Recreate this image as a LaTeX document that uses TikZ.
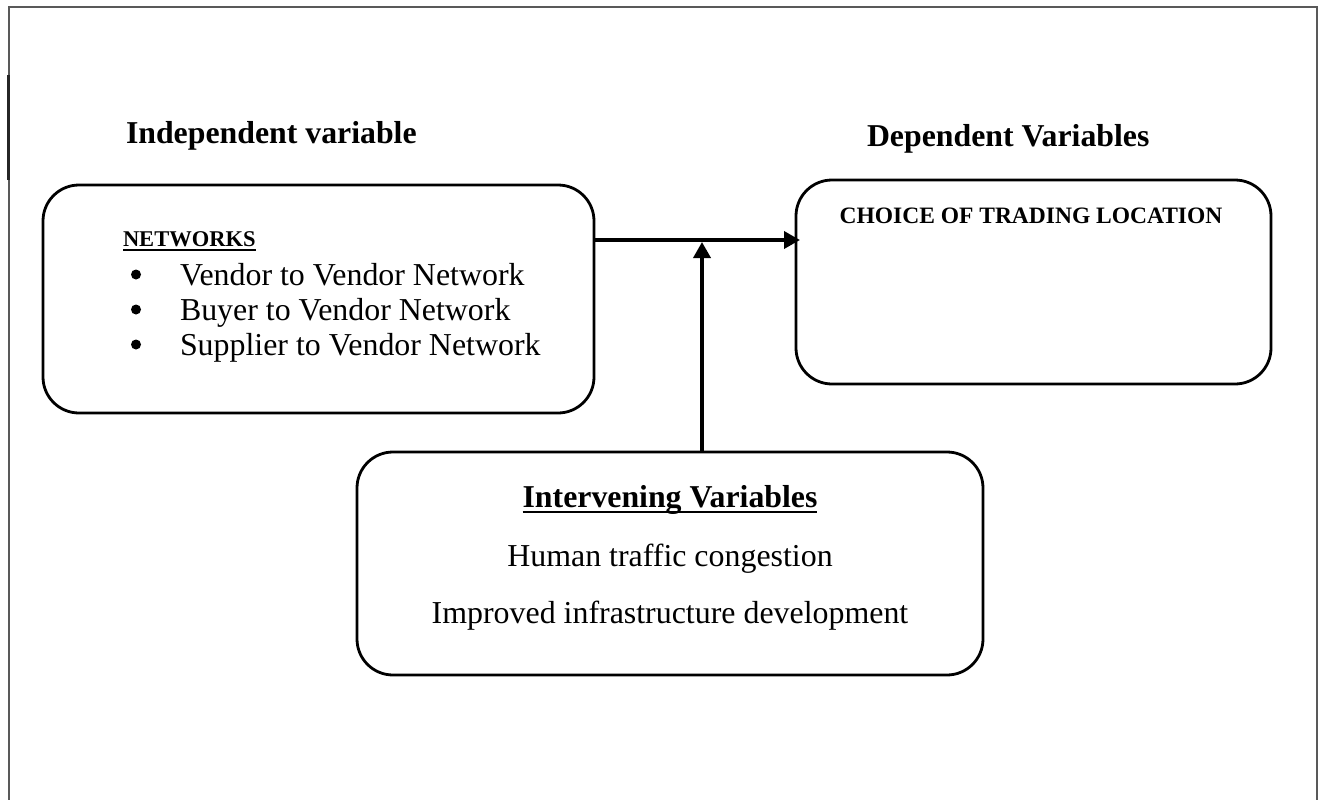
\documentclass[tikz,border=0pt]{standalone}
\usepackage{fontspec}
\setmainfont{Liberation Serif}
\usetikzlibrary{arrows.meta}

\tikzset{
  box/.style={draw, line width=2.8pt, rounded corners=36pt, inner sep=0pt, outer sep=0pt},
  link/.style={line width=3.6pt, -{Triangle[length=16pt,width=17pt]}},
  frame/.style={draw=black!65, line width=2pt},
  body/.style={inner sep=0pt, outer sep=0pt, anchor=base west, font=\fontsize{31.9}{36}\selectfont},
  head/.style={body, font=\fontsize{31.8}{36}\selectfont\bfseries},
  small head/.style={body, font=\fontsize{23.5}{27}\selectfont\bfseries},
  centred/.style={anchor=base},
  dot/.style={circle, fill, inner sep=0pt, minimum size=10pt},
  rule/.style={line width=2.4pt},
}

\begin{document}
\begin{tikzpicture}[x=1pt, y=-1pt]
  \useasboundingbox (0,0) rectangle (1320,800);

  % page frame (open at the bottom)
  \draw[frame] (8.5,800) -- (8.5,7) -- (1317,7) -- (1317,800);
  \draw[line width=2.4pt, black!85] (8.5,75) -- (8.5,180);

  % column headings
  \node[head] (indep) at (126,143) {Independent variable};
  \node[head] (dep)   at (867,146) {Dependent Variables};

  % boxes
  \node[box, minimum width=551pt, minimum height=228pt] (left)   at (318.5,299) {};
  \node[box, minimum width=475pt, minimum height=204pt] (right)  at (1033.5,282) {};
  \node[box, minimum width=626pt, minimum height=223pt] (bottom) at (670,563.5) {};

  % independent variable box
  \node[small head, font=\fontsize{22.5}{27}\selectfont\bfseries] (net) at (123,246) {NETWORKS};
  \draw[line width=2pt] ([yshift=-3.5pt]net.base west) -- ([yshift=-3.5pt]net.base east);
  \node[dot] (b1) at (136,274.5) {};
  \node[dot] (b2) at (136,309.5) {};
  \node[dot] (b3) at (136,344.5) {};
  \node[body] (i1) at (180,285) {Vendor to Vendor Network};
  \node[body] (i2) at (180,320) {Buyer to Vendor Network};
  \node[body] (i3) at (180,355) {Supplier to Vendor Network};

  % dependent variable box
  \node[small head, centred] (choice) at (1031,223) {CHOICE OF TRADING LOCATION};

  % intervening variables box
  \node[head, centred] (inter) at (670,507) {Intervening Variables};
  \draw[rule] ([yshift=-5pt]inter.base west) -- ([yshift=-5pt]inter.base east);
  \node[body, centred] (human) at (670,566) {Human traffic congestion};
  \node[body, centred] (infra) at (670,623) {Improved infrastructure development};

  % connectors
  \coordinate (j)  at (702,240);
  \coordinate (jv) at (702,242);
  \draw[link] (j -| left.east) -- ([xshift=4pt]j -| right.west);
  \draw[link] (jv |- bottom.north) -- (jv);
\end{tikzpicture}
\end{document}
